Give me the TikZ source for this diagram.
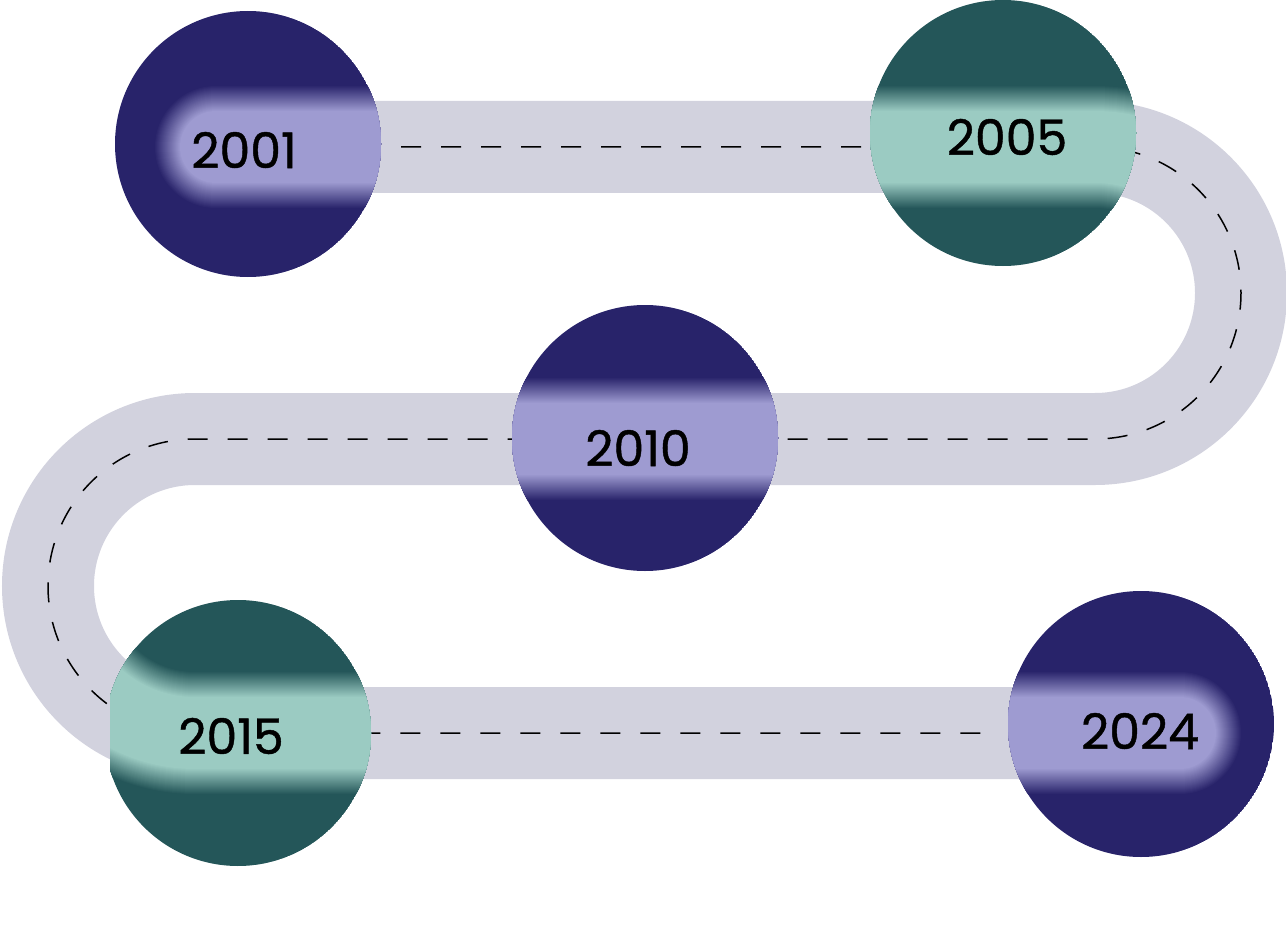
\documentclass[tikz,border=0pt]{standalone}
\usepackage{fontspec}
\setmainfont{Poppins}[FakeBold=0.9]
\definecolor{road}{HTML}{D2D2DE}
\definecolor{darkP}{HTML}{28236A}
\definecolor{lightP}{HTML}{9E9BD1}
\definecolor{darkT}{HTML}{245659}
\definecolor{lightT}{HTML}{9BCBC2}
\tikzset{
  year/.style={font=\fontsize{49}{49}\selectfont, text=black, inner sep=0pt},
  roadline/.style={line width=92pt, draw=road},
  centerdash/.style={draw=black, line width=1.5pt, dash pattern=on 20pt off 20pt},
}
\newcommand{\roadpath}{(216,147) -- (1095,147) arc[start angle=-90, end angle=90, radius=146] -- (195,439) arc[start angle=-90, end angle=-270, radius=147] -- (1180,733)}
\newcommand{\blurband}[2]{%
  \foreach \i in {0,...,26}{
    \pgfmathsetmacro{\w}{124-2*\i}
    \pgfmathsetmacro{\p}{\i*100/26}
    \draw[line width=\w pt, line cap=round, line join=round, draw=#2!\p!#1] \roadpath;
  }}
\begin{document}
\begin{tikzpicture}[x=1pt, y=-1pt]
\useasboundingbox (0,0) rectangle (1286,947);
% road
\draw[roadline] (300,147) -- (1095,147) arc[start angle=-90, end angle=90, radius=146] -- (195,439) arc[start angle=-90, end angle=-270, radius=147] -- (1141,733);
% dashed centre line
\coordinate (d0) at (401,147);
\coordinate (d1) at (990,733);
\draw[centerdash] (d0) -- (1095,147) arc[start angle=-90, end angle=90, radius=146] -- (195,439) arc[start angle=-90, end angle=-270, radius=147] -- (d1);
% circles
\begin{scope}
  \clip (248,144) circle[radius=133];
  \fill[darkP] (248,144) circle[radius=133];
  \blurband{darkP}{lightP}
\end{scope}
\node[year] (y2001) at (244,150) {2001};
\begin{scope}
  \clip (1003,133) circle[radius=133];
  \fill[darkT] (1003,133) circle[radius=133];
  \blurband{darkT}{lightT}
\end{scope}
\node[year] (y2005) at (1007,137) {2005};
\begin{scope}
  \clip (645,438) circle[radius=133];
  \fill[darkP] (645,438) circle[radius=133];
  \blurband{darkP}{lightP}
\end{scope}
\node[year] (y2010) at (638,448) {2010};
\begin{scope}
  \clip (110,590) rectangle (400,880);
  \clip (238,733) circle[radius=133];
  \fill[darkT] (238,733) circle[radius=133];
  \blurband{darkT}{lightT}
\end{scope}
\node[year] (y2015) at (231,736) {2015};
\begin{scope}
  \clip (1141,724) circle[radius=133];
  \fill[darkP] (1141,724) circle[radius=133];
  \blurband{darkP}{lightP}
\end{scope}
\node[year] (y2024) at (1140,731) {2024};
\end{tikzpicture}
\end{document}
